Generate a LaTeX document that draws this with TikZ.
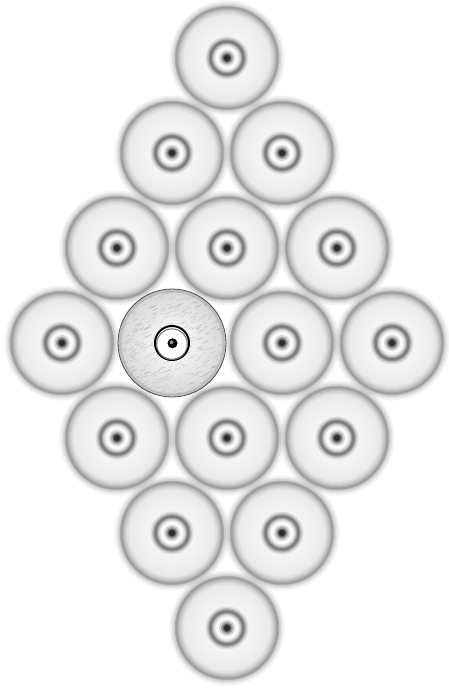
\documentclass[tikz,border=0pt]{standalone}
\begin{document}
\begin{tikzpicture}[x=1pt,y=-1pt]
\useasboundingbox (0,0) rectangle (449,688);
\fill[white] (0,0) rectangle (449,688);
% blurred discs
\foreach \cx/\cy in {227/58, 172/153, 282/153, 117/248, 227/248, 337/248,
  62/343, 282/343, 392/343, 117/438, 227/438, 337/438, 172/533, 282/533, 227/628} {
  \shade[inner color=white, outer color=black!10] (\cx,\cy) circle (52);
  \foreach \w/\o in {14/0.06, 10/0.08, 7/0.10, 4/0.12, 2/0.14} {
    \draw[black!75, line width=\w pt, opacity=\o] (\cx,\cy) circle (50.5);
  }
  \foreach \w/\o in {10/0.10, 7/0.15, 4.5/0.22, 2.5/0.28} {
    \draw[black!85, line width=\w pt, opacity=\o] (\cx,\cy) circle (16.5);
  }
  \foreach \r/\o in {8/0.15, 6/0.25, 4.5/0.4, 3/0.55} {
    \fill[black, opacity=\o] (\cx,\cy) circle (\r);
  }
}
% sharp disc
\begin{scope}
  \shade[inner color=white, outer color=black!16] (172,343) circle (54);
  \clip (172,343) circle (54);
  \pgfmathsetseed{7}
  \foreach \i in {1,...,420} {
    \pgfmathsetmacro{\px}{116+112*rnd}
    \pgfmathsetmacro{\py}{287+112*rnd}
    \pgfmathsetmacro{\ln}{2+5*rnd}
    \draw[black!55, line width=0.2pt, opacity=0.45] (\px,\py) -- ++(\ln,-0.45*\ln);
  }
\end{scope}
\draw[black!35, line width=3pt, opacity=0.5] (172,343) circle (52);
\draw[black!70, line width=0.8pt] (172,343) circle (54);
\fill[white] (172,343) circle (17);
\draw[black, line width=2pt] (172,343) circle (17);
\draw[black!55, line width=1pt] (172,344.2) circle (15.3);
\fill[black] (172.5,343.3) circle (5);
\fill[black!45] (171.5,342.3) circle (2);
\end{tikzpicture}
\end{document}
